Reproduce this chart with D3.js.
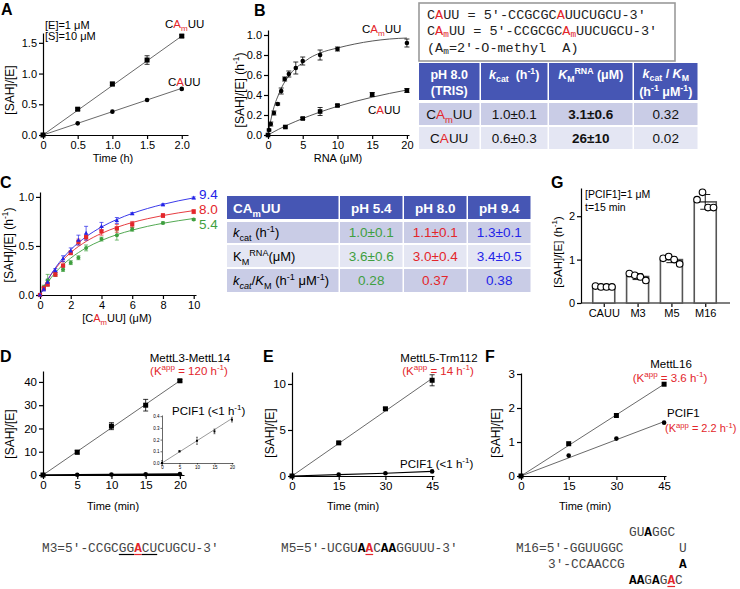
<!DOCTYPE html>
<html><head><meta charset="utf-8">
<script src="https://cdn.jsdelivr.net/npm/d3@7"></script>
<style>body{margin:0;background:#fff} svg{display:block}</style>
</head><body><svg id="c" width="740" height="589"></svg>
<script>
// ---------------- DATA ----------------
// Panel A
const aTime=[0,0.5,1.0,1.5,2.0];
const aCAmUU=[0,0.42,0.83,1.22,1.61];
const aCAmUUerr=[0,0.02,0.03,0.07,0.02];
const aCAUU=[0,0.19,0.38,0.57,0.75];
const aFitX=[0,2];
const aFitCAmUU=[0,1.61];
const aFitCAUU=[0,0.76];
// Panel B
const bCAmUUx=[0,0.15,0.4,0.85,1.4,1.9,2.4,3,4,5,7.5,10,20];
const bCAmUUy=[0,0.05,0.11,0.22,0.31,0.44,0.56,0.61,0.67,0.74,0.80,0.86,0.92];
const bCAmUUerr=[0,0.01,0.02,0.02,0.01,0.03,0.02,0.03,0.06,0.04,0.05,0.02,0.04];
const bCAUUx=[0,2.5,5,7.5,10,15,20];
const bCAUUy=[0,0.08,0.165,0.235,0.295,0.405,0.445];
const bCAUUerr=[0,0.01,0.01,0.04,0.01,0.02,0.02];
const bFitX=[0,0.5,1,1.5,2,3,4,5,6,7.5,10,12.5,15,17.5,20];
const bFitCAmUU=[0,0.18,0.31,0.40,0.48,0.59,0.67,0.72,0.77,0.82,0.87,0.91,0.94,0.96,0.97];
const bFitCAUU=[0,0.019,0.038,0.056,0.073,0.106,0.136,0.165,0.192,0.230,0.286,0.335,0.378,0.416,0.450];
// Table B
const tbHeader=["pH 8.0","kcat","KM","kcat/KM"];
const tbRows=["CAmUU","CAUU"];
const tbKcat=["1.0±0.1","0.6±0.3"];
const tbKm=["3.1±0.6","26±10"];
const tbEff=["0.32","0.02"];
// Panel C
const cX=[0,0.25,0.5,1,1.5,2,2.5,3,4,5,6,8,10];
const c94=[0,0.06,0.13,0.25,0.37,0.45,0.56,0.63,0.70,0.76,0.83,0.92,0.99];
const c94err=[0,0.02,0.03,0.02,0.03,0.03,0.05,0.07,0.04,0.03,0.01,0.01,0.01];
const c80=[0,0.07,0.11,0.21,0.30,0.43,0.54,0.59,0.65,0.68,0.72,0.81,0.85];
const c80err=[0,0.02,0.02,0.02,0.04,0.02,0.03,0.03,0.04,0.04,0.03,0.02,0.02];
const c54=[0,0.08,0.15,0.21,0.26,0.33,0.38,0.48,0.57,0.61,0.67,0.735,0.77];
const c54err=[0,0.02,0.06,0.02,0.02,0.02,0.02,0.03,0.02,0.05,0.02,0.01,0.01];
const cFitX=[0,0.5,1,1.5,2,3,4,5,6,7,8,9,10];
const cFit94=[0,0.154,0.277,0.378,0.462,0.594,0.693,0.770,0.832,0.882,0.924,0.960,0.990];
const cFit80=[0,0.152,0.268,0.359,0.433,0.546,0.628,0.690,0.739,0.778,0.810,0.837,0.860];
const cFit54=[0,0.128,0.229,0.309,0.376,0.480,0.556,0.615,0.661,0.700,0.731,0.757,0.780];
// Table C
const tcCols=["pH 5.4","pH 8.0","pH 9.4"];
const tcKcat=["1.0±0.1","1.1±0.1","1.3±0.1"];
const tcKm=["3.6±0.6","3.0±0.4","3.4±0.5"];
const tcEff=["0.28","0.37","0.38"];
// Panel G
const gCats=["CAUU","M3","M5","M16"];
const gMeans=[0.38,0.61,1.00,2.33];
const gSD=[0.01,0.07,0.07,0.17];
const gPts=[[0.39,0.37,0.37,0.37],[0.68,0.64,0.60,0.52],[1.03,1.07,1.00,0.90],[2.38,2.55,2.20,2.20]];
// Panel D
const dTime=[0,5,10,15,20];
const dMettL3=[0,9.8,21,30,40.5];
const dMettL3err=[0,0.8,1.5,2.5,0.5];
const dPCIF1=[0,0.1,0.19,0.27,0.37];
const dPCIF1err=[0.02,0.005,0.03,0.02,0.02];
const dFitX=[0,20];
const dFitMettL3=[0,40.5];
const dFitPCIF1=[0,0.38];
// Panel E
const eTime=[0,15,30,45];
const eMettL5=[0,3.6,7.3,10.4];
const eMettL5err=[0,0.1,0.15,0.6];
const ePCIF1=[0,0.15,0.3,0.5];
const eFitX=[0,45];
const eFitMettL5=[0,10.6];
// Panel F
const fTime=[0,15,30,45];
const fMettL16=[0,0.95,1.78,2.7];
const fPCIF1=[0,0.6,1.1,1.57];
const fFitX=[0,45];
const fFitMettL16=[0,2.7];
const fFitPCIF1=[0,1.6];

// ---------------- HELPERS ----------------
const svg=d3.select("#c");
const RED="#e3262b", GREEN="#3f9f3f", BLUE="#2424e8", HDR="#4656b4", ROW1="#c9cce6", ROW2="#e4e6f3";
const FONT='"Liberation Sans",Arial,sans-serif';
const MONO='"Liberation Mono","DejaVu Sans Mono",monospace';

function rich(parent,x,y,segs,o={}){
  const fs=o.size||11;
  const t=parent.append("text").attr("x",x).attr("y",y).attr("font-size",fs)
    .attr("text-anchor",o.anchor||"start").attr("fill",o.fill||"#000")
    .attr("font-weight",o.bold?"bold":"normal").attr("font-family",o.family||FONT)
    .style("white-space","pre");
  if(o.rotate) t.attr("transform",`rotate(-90,${x},${y})`);
  let shift=0;
  segs.forEach(s=>{
    if(typeof s==="string") s={t:s};
    const target=s.sub?fs*(o.subShift||0.3):s.sup?-fs*0.4:0;
    const ts=t.append("tspan").text(s.t).attr("dy",target-shift);
    shift=target;
    if(s.sub||s.sup) ts.attr("font-size",fs*(s.small||0.7));
    if(s.fill) ts.attr("fill",s.fill);
    if(s.bold) ts.attr("font-weight","bold");
    if(s.italic) ts.attr("font-style","italic");
  });
  return t;
}
function styleAxis(a,fs,sw){
  a.attr("font-family",null).attr("font-size",null);
  a.select(".domain").attr("stroke","#000").attr("stroke-width",sw);
  a.selectAll(".tick line").attr("stroke","#000").attr("stroke-width",sw);
  a.selectAll(".tick text").attr("font-size",fs).attr("font-family",FONT).attr("fill","#000");
}
function axisB(g,scale,y,ticks,fmt,fs=11,sw=1.2,ts=4,pad=2){
  const a=g.append("g").attr("transform",`translate(0,${y})`)
    .call(d3.axisBottom(scale).tickValues(ticks).tickFormat(fmt).tickSize(ts).tickSizeOuter(0).tickPadding(pad));
  styleAxis(a,fs,sw); return a;
}
function axisL(g,scale,x,ticks,fmt,fs=11,sw=1.2,ts=4,pad=2){
  const a=g.append("g").attr("transform",`translate(${x},0)`)
    .call(d3.axisLeft(scale).tickValues(ticks).tickFormat(fmt).tickSize(ts).tickSizeOuter(0).tickPadding(pad));
  styleAxis(a,fs,sw); return a;
}
function path(g,xs,ys,x,y,stroke,sw,curve){
  g.append("path").datum(xs.map((d,i)=>[d,ys[i]]))
    .attr("d",d3.line().x(d=>x(d[0])).y(d=>y(d[1])).curve(curve||d3.curveLinear))
    .attr("fill","none").attr("stroke",stroke).attr("stroke-width",sw);
}
function errs(g,xs,ys,es,x,y,cap,color,sw){
  xs.forEach((d,i)=>{
    if(!es[i]) return;
    const cx=x(d), y0=y(ys[i]-es[i]), y1=y(ys[i]+es[i]);
    g.append("line").attr("x1",cx).attr("x2",cx).attr("y1",y0).attr("y2",y1).attr("stroke",color).attr("stroke-width",sw);
    [y0,y1].forEach(yy=>g.append("line").attr("x1",cx-cap).attr("x2",cx+cap).attr("y1",yy).attr("y2",yy).attr("stroke",color).attr("stroke-width",sw));
  });
}
function pts(g,xs,ys,x,y,shape,size,fill){
  xs.forEach((d,i)=>{
    const cx=x(d), cy=y(ys[i]);
    if(shape==="sq") g.append("rect").attr("x",cx-size/2).attr("y",cy-size/2).attr("width",size).attr("height",size).attr("fill",fill);
    else if(shape==="tri") g.append("path").attr("d",`M${cx},${cy-size*0.6}L${cx+size*0.55},${cy+size*0.4}L${cx-size*0.55},${cy+size*0.4}Z`).attr("fill",fill);
    else g.append("circle").attr("cx",cx).attr("cy",cy).attr("r",size/2).attr("fill",fill);
  });
}
function letter(t,x,y){ svg.append("text").attr("x",x).attr("y",y).attr("font-family",FONT).attr("font-weight","bold").attr("font-size",16).text(t); }
const CAmUU=()=>["C",{t:"A",fill:RED},{t:"m",sub:true,fill:RED},"UU"];

// ---------------- PANEL A ----------------
letter("A",1,15);
const gA=svg.append("g");
const xA=d3.scaleLinear([0,2.09],[43,188]), yA=d3.scaleLinear([0,1.66],[135,33]);
axisB(gA,xA,135,[0,0.5,1,1.5,2],d=>d===0?"0":d.toFixed(1));
axisL(gA,yA,43,[0,0.5,1,1.5],d=>d.toFixed(1));
path(gA,aFitX,aFitCAmUU,xA,yA,"#444",0.8);
path(gA,aFitX,aFitCAUU,xA,yA,"#444",0.8);
errs(gA,aTime,aCAmUU,aCAmUUerr,xA,yA,2.5,"#000",0.8);
pts(gA,aTime,aCAmUU,xA,yA,"sq",5,"#000");
pts(gA,aTime,aCAUU,xA,yA,"c",4.6,"#000");
rich(gA,45,29,["[E]=1 μM"],{size:11});
rich(gA,45,40,["[S]=10 μM"],{size:11});
rich(gA,165,28,CAmUU(),{size:11.5});
rich(gA,168,86,["C",{t:"A",fill:RED},"UU"],{size:11.5});
rich(gA,14,90,["[SAH]/[E]"],{size:12,anchor:"middle",rotate:true});
rich(gA,113,162,["Time (h)"],{size:11,anchor:"middle"});

// ---------------- PANEL B ----------------
letter("B",254,16);
const gB=svg.append("g");
const xB=d3.scaleLinear([0,20.3],[268,409]), yB=d3.scaleLinear([0,1.05],[135,30]);
axisB(gB,xB,135,[0,5,10,15,20],d3.format("d"));
axisL(gB,yB,268,[0,0.2,0.4,0.6,0.8,1.0],d=>d.toFixed(1));
path(gB,bFitX,bFitCAmUU,xB,yB,"#444",0.9,d3.curveMonotoneX);
path(gB,bFitX,bFitCAUU,xB,yB,"#444",0.9,d3.curveMonotoneX);
errs(gB,bCAmUUx,bCAmUUy,bCAmUUerr,xB,yB,2.5,"#000",0.8);
errs(gB,bCAUUx,bCAUUy,bCAUUerr,xB,yB,2.5,"#000",0.8);
pts(gB,bCAmUUx,bCAmUUy,xB,yB,"c",4.6,"#000");
pts(gB,bCAUUx,bCAUUy,xB,yB,"sq",4.6,"#000");
rich(gB,362,33,CAmUU(),{size:11.5});
rich(gB,368,114,["C",{t:"A",fill:RED},"UU"],{size:11.5});
rich(gB,244,90,["[SAH]/[E] (h",{t:"-1",sup:true},")"],{size:12,anchor:"middle",rotate:true});
rich(gB,338,162,["RNA (μM)"],{size:11,anchor:"middle"});

// Sequence box
const gBox=svg.append("g");
gBox.append("rect").attr("x",419).attr("y",3).attr("width",256).attr("height",58).attr("fill","#fff").attr("stroke","#9a9a9a").attr("stroke-width",1.6);
const boxO={size:13.5,family:MONO,fill:"#222",subShift:0.18};
rich(gBox,427,19,["C",{t:"A",fill:RED},"UU = 5′-CCGCGC",{t:"A",fill:RED},"UUCUGCU-3′"],boxO);
rich(gBox,427,35,["C",{t:"A",fill:RED},{t:"m",sub:true,fill:RED},"UU = 5′-CCGCGC",{t:"A",fill:RED},{t:"m",sub:true,fill:RED},"UUCUGCU-3′"],boxO);
rich(gBox,427,52,["(A",{t:"m",sub:true},"=2′-O-methyl  A)"],boxO);

// Table B
const gTB=svg.append("g");
const colB=[419,481,549,634,699];
for(let i=0;i<4;i++){
  gTB.append("rect").attr("x",colB[i]).attr("y",63).attr("width",colB[i+1]-colB[i]-1.5).attr("height",37).attr("fill",HDR);
  gTB.append("rect").attr("x",colB[i]).attr("y",103).attr("width",colB[i+1]-colB[i]-1.5).attr("height",22).attr("fill",ROW1);
  gTB.append("rect").attr("x",colB[i]).attr("y",127).attr("width",colB[i+1]-colB[i]-1.5).attr("height",22).attr("fill",ROW2);
}
const cB=i=>(colB[i]+colB[i+1]-1.5)/2;
const hB={size:12.5,anchor:"middle",fill:"#fff",bold:true,subShift:0.22};
rich(gTB,cB(0),79,[tbHeader[0]],hB);
rich(gTB,cB(0),95,["(TRIS)"],hB);
rich(gTB,cB(1),79,[{t:"k",italic:true},{t:"cat",sub:true},"  (h",{t:"-1",sup:true},")"],hB);
rich(gTB,cB(2),79,[{t:"K",italic:true},{t:"M",sub:true},{t:"RNA",sup:true}," (μM)"],hB);
rich(gTB,cB(3),78,[{t:"k",italic:true},{t:"cat",sub:true}," / ",{t:"K",italic:true},{t:"M",sub:true}],hB);
rich(gTB,cB(3),96,["(h",{t:"-1",sup:true}," μM",{t:"-1",sup:true},")"],hB);
const rB={size:13.5,anchor:"middle",fill:"#111"};
rich(gTB,cB(0),119,CAmUU(),rB);
rich(gTB,cB(0),143,["C",{t:"A",fill:RED},"UU"],rB);
[119,143].forEach((yy,i)=>{
  rich(gTB,cB(1),yy,[tbKcat[i]],rB);
  rich(gTB,cB(2),yy,[tbKm[i]],Object.assign({bold:true},rB));
  rich(gTB,cB(3),yy,[tbEff[i]],rB);
});

// ---------------- PANEL C ----------------
letter("C",0,188);
const gC=svg.append("g");
const xC=d3.scaleLinear([0,10.15],[40,196]), yC=d3.scaleLinear([0,1.05],[295,192]);
axisB(gC,xC,295,[0,2,4,6,8,10],d3.format("d"));
axisL(gC,yC,40,[0,0.5,1.0],d=>d.toFixed(1));
path(gC,cFitX,cFit54,xC,yC,GREEN,0.9,d3.curveMonotoneX);
path(gC,cFitX,cFit80,xC,yC,RED,0.9,d3.curveMonotoneX);
path(gC,cFitX,cFit94,xC,yC,BLUE,0.9,d3.curveMonotoneX);
errs(gC,cX,c54,c54err,xC,yC,2,GREEN,0.7);
errs(gC,cX,c80,c80err,xC,yC,2,RED,0.7);
errs(gC,cX,c94,c94err,xC,yC,2,BLUE,0.7);
pts(gC,cX,c54,xC,yC,"c",4,GREEN);
pts(gC,cX,c80,xC,yC,"sq",4.2,RED);
pts(gC,cX,c94,xC,yC,"tri",4,BLUE);
rich(gC,199,199,["9.4"],{size:13.5,fill:BLUE});
rich(gC,199,214,["8.0"],{size:13.5,fill:RED});
rich(gC,199,229,["5.4"],{size:13.5,fill:GREEN});
rich(gC,13,245,["[SAH]/[E] (h",{t:"-1",sup:true},")"],{size:12,anchor:"middle",rotate:true});
rich(gC,117,322,["[C",{t:"A",fill:RED},{t:"m",sub:true,fill:RED},"UU] (μM)"],{size:11,anchor:"middle"});

// Table C
const gTC=svg.append("g");
const colC=[227,340,404,468,532];
const rowsC=[[222,21],[245,22],[269,23]];
for(let i=0;i<4;i++){
  gTC.append("rect").attr("x",colC[i]).attr("y",196).attr("width",colC[i+1]-colC[i]-1.5).attr("height",23).attr("fill",HDR);
  rowsC.forEach((r,j)=>gTC.append("rect").attr("x",colC[i]).attr("y",r[0]).attr("width",colC[i+1]-colC[i]-1.5).attr("height",r[1]).attr("fill",j===1?ROW2:ROW1));
}
const cC=i=>(colC[i]+colC[i+1]-1.5)/2;
rich(gTC,233,213,["CA",{t:"m",sub:true},"UU"],{size:13.5,fill:"#fff",bold:true});
tcCols.forEach((t,i)=>rich(gTC,cC(i+1),213,[t],{size:13.5,fill:"#fff",bold:true,anchor:"middle"}));
rich(gTC,233,237,[{t:"k",italic:true},{t:"cat",sub:true}," (h",{t:"-1",sup:true},")"],{size:13});
rich(gTC,233,261,["K",{t:"M",sub:true},{t:"RNA",sup:true},"(μM)"],{size:13});
rich(gTC,233,285,[{t:"k",italic:true},{t:"cat",sub:true,italic:true},{t:"/",italic:false},{t:"K",italic:true},{t:"M",sub:true}," (h",{t:"-1",sup:true}," μM",{t:"-1",sup:true},")"],{size:13});
const colColors=[GREEN,RED,BLUE];
[tcKcat,tcKm,tcEff].forEach((arr,j)=>{
  arr.forEach((v,i)=>rich(gTC,cC(i+1),[237,261,285][j],[v],{size:13.5,anchor:"middle",fill:colColors[i]}));
});

// ---------------- PANEL G ----------------
letter("G",551,188);
const gG=svg.append("g");
const xG=d3.scaleBand(gCats,[587,722]).paddingInner(0.35).paddingOuter(0.17);
const yG=d3.scaleLinear([0,2.65],[303,188]);
axisL(gG,yG,581,[0,1,2],d3.format("d"),11);
const axG=axisB(gG,d3.scalePoint(gCats,[xG("CAUU")+xG.bandwidth()/2,xG("M16")+xG.bandwidth()/2]),303,gCats,d=>d,11);
axG.select(".domain").remove();
gG.append("line").attr("x1",581).attr("x2",730).attr("y1",303).attr("y2",303).attr("stroke","#000").attr("stroke-width",1.2);
gCats.forEach((c,i)=>{
  const x0=xG(c), w=xG.bandwidth();
  gG.append("rect").attr("x",x0).attr("y",yG(gMeans[i])).attr("width",w).attr("height",yG(0)-yG(gMeans[i]))
    .attr("fill","#fff").attr("stroke","#555").attr("stroke-width",1.6);
  const cx=x0+w/2;
  const e0=yG(gMeans[i]-gSD[i]), e1=yG(gMeans[i]+gSD[i]);
  gG.append("line").attr("x1",cx).attr("x2",cx).attr("y1",e0).attr("y2",e1).attr("stroke","#000").attr("stroke-width",0.9);
  [e0,e1].forEach(yy=>gG.append("line").attr("x1",cx-5).attr("x2",cx+5).attr("y1",yy).attr("y2",yy).attr("stroke","#000").attr("stroke-width",0.9));
  gPts[i].forEach((v,k)=>{
    gG.append("circle").attr("cx",cx+(k-1.5)*5.5).attr("cy",yG(v)).attr("r",3.3).attr("fill","#fff").attr("stroke","#000").attr("stroke-width",1.1);
  });
});
rich(gG,585,198,["[PCIF1]=1 μM"],{size:10.5});
rich(gG,585,211,["t=15 min"],{size:10.5});
rich(gG,562,252,["[SAH]/[E] (h",{t:"-1",sup:true},")"],{size:11.5,anchor:"middle",rotate:true});

// ---------------- PANEL D ----------------
letter("D",0,362);
const gD=svg.append("g");
const xD=d3.scaleLinear([0,20.6],[43,184]), yD=d3.scaleLinear([0,44.7],[475,371]);
axisB(gD,xD,475,[0,5,10,15,20],d3.format("d"),11.5);
axisL(gD,yD,43,[0,10,20,30,40],d3.format("d"),11.5);
path(gD,dFitX,dFitMettL3,xD,yD,"#444",0.8);
path(gD,dTime,dPCIF1,xD,yD,"#000",1.6);
errs(gD,dTime,dMettL3,dMettL3err,xD,yD,2.5,"#000",0.8);
pts(gD,dTime,dMettL3,xD,yD,"sq",5,"#000");
pts(gD,dTime,dPCIF1,xD,yD,"c",4.6,"#000");
rich(gD,190,362,["MettL3-MettL14"],{size:11.5,anchor:"middle"});
rich(gD,189,375,["(K",{t:"app",sup:true}," = 120 h",{t:"-1",sup:true},")"],{size:11.5,anchor:"middle",fill:RED});
rich(gD,172,415,["PCIF1 (<1 h",{t:"-1",sup:true},")"],{size:11.5});
rich(gD,14,434,["[SAH]/[E]"],{size:12,anchor:"middle",rotate:true});
rich(gD,113,510,["Time (min)"],{size:11,anchor:"middle"});
// inset
const gI=svg.append("g");
const xI=d3.scaleLinear([0,20.3],[162,233]), yI=d3.scaleLinear([0,0.41],[463,415]);
axisB(gI,xI,463,[0,5,10,15,20],d3.format("d"),4.5,0.6,1.5,1);
axisL(gI,yI,162,[0,0.1,0.2,0.3,0.4],d=>d.toFixed(1),4.5,0.6,1.5,1);
path(gI,dFitX,dFitPCIF1,xI,yI,"#555",0.6);
errs(gI,dTime,dPCIF1,dPCIF1err,xI,yI,1,"#000",0.5);
pts(gI,dTime,dPCIF1,xI,yI,"sq",2,"#000");

// ---------------- PANEL E ----------------
letter("E",263,362);
const gE=svg.append("g");
const xE=d3.scaleLinear([0,45.6],[292,434]), yE=d3.scaleLinear([0,11.3],[476,372]);
axisB(gE,xE,476,[0,15,30,45],d3.format("d"),11.5);
axisL(gE,yE,292,[0,5,10],d3.format("d"),11.5);
path(gE,eFitX,eFitMettL5,xE,yE,"#444",0.8);
path(gE,eTime,ePCIF1,xE,yE,"#000",1.2);
errs(gE,eTime,eMettL5,eMettL5err,xE,yE,2.5,"#000",0.8);
pts(gE,eTime,eMettL5,xE,yE,"sq",5,"#000");
pts(gE,eTime,ePCIF1,xE,yE,"c",4.6,"#000");
rich(gE,439,362,["MettL5-Trm112"],{size:11.5,anchor:"middle"});
rich(gE,438,375,["(K",{t:"app",sup:true}," = 14 h",{t:"-1",sup:true},")"],{size:11.5,anchor:"middle",fill:RED});
rich(gE,400,468,["PCIF1 (<1 h",{t:"-1",sup:true},")"],{size:11.5});
rich(gE,274,433,["[SAH]/[E]"],{size:12,anchor:"middle",rotate:true});
rich(gE,353,510,["Time (min)"],{size:11,anchor:"middle"});

// ---------------- PANEL F ----------------
letter("F",485,362);
const gF=svg.append("g");
const xF=d3.scaleLinear([0,45.6],[521,666]), yF=d3.scaleLinear([0,3.03],[476,373]);
axisB(gF,xF,476,[0,15,30,45],d3.format("d"),11.5);
axisL(gF,yF,521,[0,1,2,3],d3.format("d"),11.5);
path(gF,fFitX,fFitMettL16,xF,yF,"#444",0.8);
path(gF,fFitX,fFitPCIF1,xF,yF,"#444",0.8);
pts(gF,fTime,fMettL16,xF,yF,"sq",5,"#000");
pts(gF,fTime,fPCIF1,xF,yF,"c",4.6,"#000");
rich(gF,671,368,["MettL16"],{size:11.5,anchor:"middle"});
rich(gF,670,382,["(K",{t:"app",sup:true}," = 3.6 h",{t:"-1",sup:true},")"],{size:11.5,anchor:"middle",fill:RED});
rich(gF,667,417,["PCIF1"],{size:11.5});
rich(gF,665,432,["(K",{t:"app",sup:true}," = 2.2 h",{t:"-1",sup:true},")"],{size:11,fill:RED});
rich(gF,500,433,["[SAH]/[E]"],{size:12,anchor:"middle",rotate:true});
rich(gF,585,510,["Time (min)"],{size:11,anchor:"middle"});

// ---------------- SEQUENCES ----------------
const SFS=12.8, CW=SFS*0.6, SEQC="#444";
function seq(x,y,segs){ return rich(svg,x,y,segs,{size:SFS,family:MONO,fill:SEQC}); }
function uline(x,y,i0,i1,color){ svg.append("line").attr("x1",x+i0*CW).attr("x2",x+i1*CW).attr("y1",y+2.5).attr("y2",y+2.5).attr("stroke",color).attr("stroke-width",1.2); }
// M3
seq(42,552,["M3=5′-CCGCGG",{t:"A",fill:RED,bold:true},"CUCUGCU-3′"]);
uline(42,552,10,12,"#000"); uline(42,552,12,13,RED); uline(42,552,13,15,"#000");
// M5
seq(281,552,["M5=5′-UCGU",{t:"A",bold:true,fill:"#000"},{t:"A",bold:true,fill:RED},"C",{t:"AA",bold:true,fill:"#000"},"GGUUU-3′"]);
uline(281,552,11,12,RED);
// M16 hairpin
seq(629,536,["GU",{t:"A",bold:true,fill:"#000"},"GGC"]);
seq(516,552,["M16=5′-GGUUGGC"]);
seq(679,552,["U"]);
seq(548,568,["3′-CCAACCG"]);
seq(679,568,[{t:"A",bold:true,fill:"#000"}]);
seq(629,584,[{t:"AA",bold:true,fill:"#000"},"G",{t:"A",bold:true,fill:"#000"},"G",{t:"A",bold:true,fill:RED},"C"]);
uline(629,584,5,6,RED);
</script></body></html>
